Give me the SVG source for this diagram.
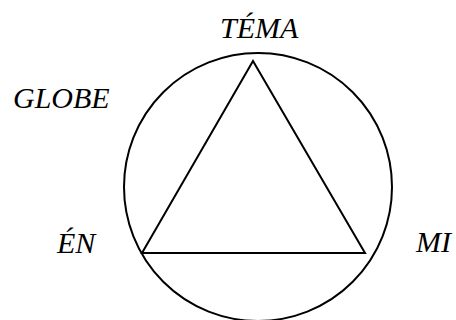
<svg xmlns="http://www.w3.org/2000/svg" width="456" height="320" viewBox="0 0 456 320">
<style>
text{font-family:'Liberation Serif','Times New Roman',serif;font-style:italic;font-size:30px;fill:#000}
.ln{fill:none;stroke:#000;stroke-width:2}
</style>
<rect width="456" height="320" fill="#fff"/>
<g id="circle"><circle class="ln" cx="258" cy="187" r="134"/></g>
<g id="connectors">
<polygon class="ln" points="253,61 365,253 142,253"/>
</g>
<g id="tema"><text x="220" y="38">TÉMA</text></g>
<g id="globe"><text x="13" y="108">GLOBE</text></g>
<g id="en"><text x="57" y="253">ÉN</text></g>
<g id="mi"><text x="416" y="252">MI</text></g>
</svg>
